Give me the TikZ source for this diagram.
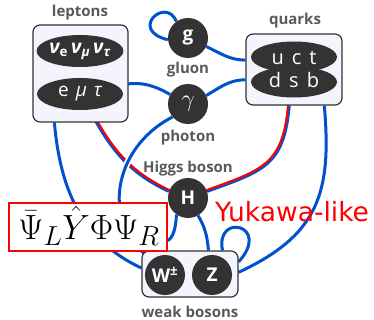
\RequirePackage{fix-cm}
\documentclass[tikz,border=0pt]{standalone}
\usepackage{fontspec}
\setmainfont{Open Sans}
\newfontfamily\dvsans{DejaVu Sans}
\DeclareMathSizes{35}{35}{27.5}{21}
\usetikzlibrary{shapes.geometric}
\pgfdeclarelayer{bg}
\pgfsetlayers{bg,main}
\definecolor{lblue}{RGB}{0,82,204}
\definecolor{dark}{RGB}{51,51,51}
\definecolor{labc}{RGB}{90,90,90}
\definecolor{boxfill}{RGB}{244,244,252}
\begin{document}
\begin{tikzpicture}[x=1pt,y=1pt,
  part/.style={circle, fill=dark, minimum size=40pt, inner sep=0pt, text=white, font=\bfseries\fontsize{19}{19}\selectfont},
  ell/.style={ellipse, fill=dark, minimum width=86pt, minimum height=32pt, inner sep=0pt, text=white, font=\fontsize{19}{19}\selectfont},
  grp/.style={draw=dark, line width=1.2pt, fill=boxfill, rounded corners=7pt, inner sep=0pt},
  lbl/.style={text=labc, font=\bfseries\fontsize{15}{15}\selectfont, inner sep=0pt},
  bl/.style={draw=lblue, line width=3pt},
  rl/.style={draw=red, line width=2pt},
  halo/.style={preaction={draw=white, line width=6.5pt}}]
\begin{pgfonlayer}{bg}
\fill[white] (0,0) rectangle (374,-320);
\end{pgfonlayer}
\useasboundingbox (0,0) rectangle (374,-320);

% groups
\node[grp, minimum width=95pt, minimum height=97pt] (lep) at (80.5,-73.5) {};
\node[grp, minimum width=96pt, minimum height=71pt] (qu) at (294,-69.5) {};
\node[grp, minimum width=96pt, minimum height=46pt] (wk) at (190,-274) {};

\node[ell, font=\bfseries\fontsize{19}{19}\selectfont] (nu) at (80,-51) {\itshape ν\textsubscript{\upshape e}\hspace{3pt}ν\textsubscript{μ}\hspace{3pt}ν\textsubscript{τ}};
\node[ell] (el) at (80,-94) {e\hspace{7pt}\itshape μ\hspace{7pt}τ};
\node[ell, minimum height=31pt] (qa) at (294,-57) {};
\node[ell, minimum height=31pt] (qb) at (294,-82) {};
\node[text=white, font=\fontsize{20}{20}\selectfont] (qt1) at (294,-58) {u\hspace{8pt}c\hspace{8pt}t};
\node[text=white, font=\fontsize{20}{20}\selectfont] (qt2) at (294,-80) {d\hspace{8pt}s\hspace{8pt}b};

\node[part] (g) at (188,-38) {g};
\node[part, font=\fontsize{24}{24}\selectfont] (ph) at (188,-104) {$\gamma$};
\node[part] (H) at (188,-198) {H};
\node[part] (W) at (165,-275) {W\textsuperscript{±}};
\node[part] (Z) at (212,-275) {Z};

% labels
\node[lbl] (l1) at (80,-13) {leptons};
\node[lbl] (l2) at (295,-21) {quarks};
\node[lbl] (l3) at (188,-70) {gluon};
\node[lbl] (l4) at (188,-138) {photon};
\node[lbl] (l5) at (188,-169) {Higgs boson};
\node[lbl] (l6) at (190,-312) {weak bosons};

% connectors (behind)
\begin{pgfonlayer}{bg}
\draw[bl] (g.125) .. controls (166,4) and (128,-30) .. (g.185);
\draw[bl] (g.-25) to[out=-25, in=180] (qu.169);
\draw[bl] (ph.25) to[out=30, in=180] (qu.192);
\draw[bl] (el.12) to[out=15, in=150] (ph.152);
\draw[bl] (lep.242) to[out=-85, in=155] (wk.173);
\draw[bl] (qu.-50) to[out=-85, in=25, looseness=1.2] (wk.2);
\draw[bl] (wk.36) .. controls (215,-212) and (272,-225) .. (wk.14);
\draw[bl] (H.-60) to[out=-60, in=95] (wk.52);
\draw[bl] (H.-125) .. controls (175,-250) and (160,-245) .. (140,-235);
\draw[bl, line width=3.6pt] (el.-58) to[out=-62, in=155] (H.160);
\draw[rl] ([shift={(0.8,0.8)}]el.-58) to[out=-62, in=155] ([shift={(0.8,0.8)}]H.160);
\draw[bl, line width=3.6pt] (qu.-98) to[out=-95, in=20, looseness=1.3] (H.20);
\draw[rl] ([shift={(-0.8,0.8)}]qu.-98) to[out=-95, in=20, looseness=1.3] ([shift={(-0.8,0.8)}]H.20);
\draw[bl, halo] (ph.-140) .. controls (112,-148) and (100,-225) .. (W.130);
\end{pgfonlayer}

% Yukawa
\node[draw=red, line width=1.8pt, fill=white, minimum width=158pt, minimum height=48pt] (yk) at (88,-227) {};
\node[font=\fontsize{35}{35}\selectfont, inner sep=0pt] (ykt) at (89,-226) {$\bar\Psi_L\hat Y\Phi\Psi_R$};
\node[text=red, font=\dvsans\fontsize{26.5}{26.5}\selectfont] (yl) at (292,-212) {Yukawa-like};
\end{tikzpicture}
\end{document}
